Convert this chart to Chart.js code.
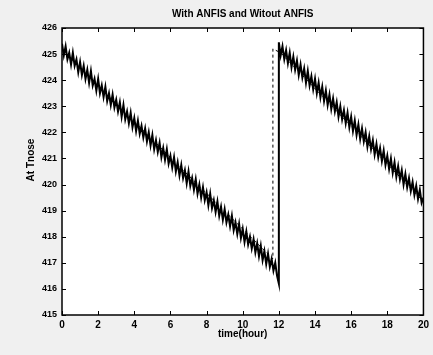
<!DOCTYPE html>
<html>
<head>
<meta charset="utf-8">
<script src="https://cdn.jsdelivr.net/npm/chart.js@4/dist/chart.umd.min.js"></script>
<style>
  html, body { margin: 0; padding: 0; background: #f0f0f0; }
  #wrap { width: 433px; height: 355px; }
</style>
</head>
<body>
<div id="wrap"><canvas id="plot" width="433" height="355"></canvas></div>
<script>
// sampled every 0.1 hour
var dt = 0.1;

// without ANFIS, 0 .. 12 h
var tempRun1 = [
  425.40, 424.95, 425.30, 424.80, 425.05, 424.60, 425.05, 424.55, 424.80, 424.30,
  424.70, 424.20, 424.55, 424.05, 424.40, 423.90, 424.35, 423.80, 424.05, 423.60,
  424.05, 423.50, 423.80, 423.35, 423.75, 423.20, 423.50, 423.05, 423.45, 422.95,
  423.25, 422.80, 423.15, 422.60, 423.05, 422.50, 422.80, 422.35, 422.75, 422.20,
  422.55, 422.05, 422.45, 421.95, 422.25, 421.80, 422.15, 421.65, 422.00, 421.50,
  421.90, 421.35, 421.70, 421.25, 421.60, 421.05, 421.40, 420.95, 421.35, 420.80,
  421.10, 420.65, 421.05, 420.50, 420.85, 420.35, 420.75, 420.25, 420.55, 420.05,
  420.50, 419.95, 420.25, 419.80, 420.20, 419.65, 420.00, 419.50, 419.90, 419.40,
  419.70, 419.20, 419.65, 419.10, 419.40, 418.95, 419.35, 418.80, 419.15, 418.65,
  419.05, 418.55, 418.85, 418.40, 418.80, 418.25, 418.55, 418.10, 418.50, 417.95,
  418.30, 417.80, 418.20, 417.70, 418.00, 417.55, 417.90, 417.40, 417.75, 417.25,
  417.65, 417.10, 417.45, 416.95, 417.35, 416.85, 417.15, 416.70, 417.00, 416.50,
  416.20
];
// without ANFIS, 12 .. 20 h (after the refill)
var tempRun2 = [
  425.45, 424.95, 425.30, 424.80, 425.15, 424.65, 425.05, 424.50, 424.90, 424.40,
  424.75, 424.20, 424.60, 424.10, 424.45, 423.90, 424.35, 423.80, 424.15, 423.65,
  424.05, 423.50, 423.90, 423.35, 423.75, 423.20, 423.60, 423.05, 423.45, 422.90,
  423.30, 422.80, 423.15, 422.60, 423.00, 422.50, 422.85, 422.35, 422.75, 422.20,
  422.60, 422.05, 422.45, 421.90, 422.30, 421.75, 422.15, 421.65, 422.00, 421.45,
  421.85, 421.35, 421.70, 421.15, 421.55, 421.05, 421.40, 420.90, 421.30, 420.75,
  421.10, 420.60, 421.00, 420.45, 420.85, 420.30, 420.70, 420.20, 420.55, 420.00,
  420.40, 419.90, 420.25, 419.75, 420.10, 419.60, 419.95, 419.45, 419.80, 419.30,
  419.50
];
var startRun2 = 12;

// with ANFIS (dashed), refill a little earlier
var timeAnfis = [0, 11.67, 11.67, 12.1, 20];
var tempAnfis = [425.15, 417.15, 425.2, 425.05, 419.35];

var xTicks = [0, 2, 4, 6, 8, 10, 12, 14, 16, 18, 20];
var yTicks = [415, 416, 417, 418, 419, 420, 421, 422, 423, 424, 425, 426];

var titleText = 'With ANFIS and Witout ANFIS';
var xLabel = 'time(hour)';
var yLabel = 'At Tnose';

var noAnfis = [];
tempRun1.forEach(function (v, i) { noAnfis.push({ x: i * dt, y: v }); });
tempRun2.forEach(function (v, i) { noAnfis.push({ x: startRun2 + i * dt, y: v }); });
var withAnfis = timeAnfis.map(function (t, i) { return { x: t, y: tempAnfis[i] }; });

var font = "'Liberation Sans Narrow', 'Liberation Sans', Arial, sans-serif";

var matlabFrame = {
  id: 'matlabFrame',
  beforeDraw: function (chart) {
    var c = chart.ctx, a = chart.chartArea;
    c.save();
    c.fillStyle = '#ffffff';
    c.fillRect(a.left, a.top, a.right - a.left, a.bottom - a.top);
    c.restore();
  },
  afterDraw: function (chart) {
    var c = chart.ctx, a = chart.chartArea;
    var xs = chart.scales.x, ys = chart.scales.y;
    c.save();
    c.strokeStyle = '#000';
    c.lineWidth = 1.5;
    c.strokeRect(a.left, a.top, a.right - a.left, a.bottom - a.top);
    c.lineWidth = 1;
    c.beginPath();
    xTicks.forEach(function (t) {
      var px = Math.round(xs.getPixelForValue(t)) + 0.5;
      c.moveTo(px, a.bottom); c.lineTo(px, a.bottom - 4);
      c.moveTo(px, a.top); c.lineTo(px, a.top + 4);
    });
    yTicks.forEach(function (t) {
      var py = Math.round(ys.getPixelForValue(t)) + 0.5;
      c.moveTo(a.left, py); c.lineTo(a.left + 4, py);
      c.moveTo(a.right, py); c.lineTo(a.right - 4, py);
    });
    c.stroke();

    c.fillStyle = '#000';
    c.font = 'bold 10px ' + font;
    c.textAlign = 'center';
    c.textBaseline = 'middle';
    c.fillText(titleText, (a.left + a.right) / 2, 14);
    c.fillText(xLabel, (a.left + a.right) / 2, 334);
    c.translate(31, 160);
    c.rotate(-Math.PI / 2);
    c.fillText(yLabel, 0, 0);
    c.restore();
  }
};

new Chart(document.getElementById('plot').getContext('2d'), {
  type: 'line',
  data: {
    datasets: [{
      label: 'Without ANFIS',
      data: noAnfis,
      borderColor: '#000',
      borderWidth: 2,
      pointRadius: 0,
      tension: 0
    }, {
      label: 'With ANFIS',
      data: withAnfis,
      borderColor: '#000',
      borderWidth: 1,
      borderDash: [3, 3],
      pointRadius: 0,
      tension: 0
    }]
  },
  options: {
    responsive: false,
    animation: false,
    layout: { padding: { left: 0, right: 6, top: 28, bottom: 0 } },
    plugins: { legend: { display: false }, tooltip: { enabled: false } },
    scales: {
      x: {
        type: 'linear',
        min: 0, max: 20,
        grid: { display: false, drawTicks: false },
        border: { display: false },
        afterFit: function (s) { s.height = 40; },
        afterBuildTicks: function (s) { s.ticks = xTicks.map(function (v) { return { value: v }; }); },
        ticks: { color: '#000', padding: 4, maxRotation: 0, font: { family: font, size: 10, weight: 'bold' } }
      },
      y: {
        min: 415, max: 426,
        grid: { display: false, drawTicks: false },
        border: { display: false },
        afterFit: function (s) { s.width = 62; },
        afterBuildTicks: function (s) { s.ticks = yTicks.map(function (v) { return { value: v }; }); },
        ticks: { color: '#000', padding: 5, font: { family: font, size: 9, weight: 'bold' } }
      }
    }
  },
  plugins: [matlabFrame]
});
</script>
</body>
</html>
